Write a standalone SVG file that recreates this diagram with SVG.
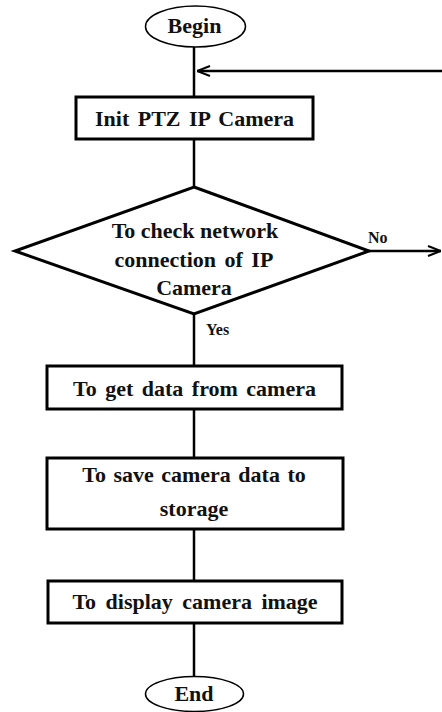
<svg xmlns="http://www.w3.org/2000/svg" width="442" height="712" viewBox="0 0 442 712">
<defs>
<marker id="arr" viewBox="0 0 14 12" refX="14" refY="6" markerWidth="14" markerHeight="12" markerUnits="userSpaceOnUse" orient="auto">
<path d="M1,1 L14,6 L1,11" fill="none" stroke="#000" stroke-width="2"/>
</marker>
<style>
.shape{fill:#fff;stroke:#000;stroke-width:3}
.ell{fill:#fff;stroke:#000;stroke-width:1.5}
.t{font-family:"Liberation Serif","Times New Roman",serif;font-weight:bold;font-size:22px;fill:#111;text-anchor:middle}
.s{font-family:"Liberation Serif","Times New Roman",serif;font-weight:bold;font-size:16px;fill:#111}
.c{fill:none;stroke:#000;stroke-width:2.5}
</style>
</defs>
<rect width="442" height="712" fill="#fff"/>
<g id="connectors">
<line class="c" x1="194" y1="47" x2="194" y2="97"/>
<line class="c" x1="194" y1="139" x2="194" y2="187"/>
<line class="c" x1="194" y1="314" x2="194" y2="366"/>
<line class="c" x1="194" y1="409" x2="194" y2="458"/>
<line class="c" x1="194" y1="529" x2="194" y2="581"/>
<line class="c" x1="194" y1="623" x2="194" y2="676"/>
<line class="c" x1="442" y1="71" x2="197" y2="71" marker-end="url(#arr)"/>
<line class="c" x1="369" y1="251" x2="441" y2="251" marker-end="url(#arr)"/>
<text class="s" x="368" y="243">No</text>
<text class="s" x="206" y="335">Yes</text>
</g>
<g id="begin">
<ellipse class="ell" cx="195.5" cy="26.5" rx="50" ry="20.5"/>
<text class="t" x="194.5" y="33">Begin</text>
</g>
<g id="init">
<rect class="shape" x="76" y="97" width="237" height="42"/>
<text class="t" x="194.5" y="126" word-spacing="3">Init PTZ IP Camera</text>
</g>
<g id="check">
<polygon class="shape" points="194,187 369,251 194,314 15,251"/>
<text class="t" x="195" y="238">To check network</text>
<text class="t" x="194" y="267" word-spacing="3">connection of IP</text>
<text class="t" x="194" y="295">Camera</text>
</g>
<g id="getdata">
<rect class="shape" x="47" y="366" width="295" height="43"/>
<text class="t" x="194.5" y="396" word-spacing="3">To get data from camera</text>
</g>
<g id="save">
<rect class="shape" x="47" y="458" width="296" height="71"/>
<text class="t" x="194" y="482" word-spacing="2">To save camera data to</text>
<text class="t" x="194" y="516">storage</text>
</g>
<g id="display">
<rect class="shape" x="48" y="581" width="294" height="42"/>
<text class="t" x="195" y="609" word-spacing="4">To display camera image</text>
</g>
<g id="end">
<ellipse class="ell" cx="194.5" cy="694" rx="49" ry="17.5"/>
<text class="t" x="194" y="701">End</text>
</g>
</svg>
